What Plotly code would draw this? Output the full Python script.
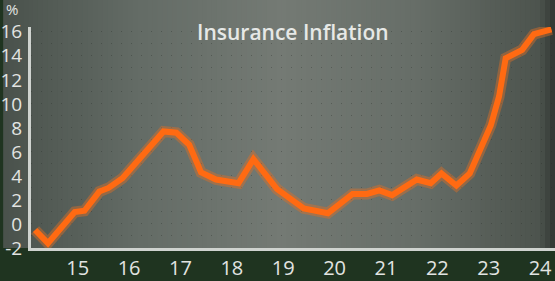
import plotly.graph_objects as go

# ---- data ----
years = [2014.17, 2014.42, 2014.94, 2015.13, 2015.42, 2015.60, 2015.87, 2016.29,
         2016.67, 2016.92, 2017.17, 2017.40, 2017.69, 2018.13, 2018.42, 2018.88,
         2019.40, 2019.87, 2020.35, 2020.63, 2020.87, 2021.12, 2021.60, 2021.87,
         2022.08, 2022.37, 2022.63, 2023.04, 2023.20, 2023.33, 2023.46, 2023.65,
         2023.88, 2024.08, 2024.22]
inflation = [-0.5, -1.6, 1.0, 1.1, 2.7, 3.0, 3.8, 5.8,
             7.7, 7.6, 6.6, 4.3, 3.7, 3.4, 5.4, 2.9,
             1.3, 0.9, 2.5, 2.5, 2.8, 2.4, 3.7, 3.4,
             4.2, 3.2, 4.2, 8.2, 10.6, 13.8, 14.1, 14.5,
             15.8, 16.1, 16.2]
x_tick_vals = [2015, 2016, 2017, 2018, 2019, 2020, 2021, 2022, 2023, 2024]
x_tick_text = ["15", "16", "17", "18", "19", "20", "21", "22", "23", "24"]
y_tick_vals = [-2, 0, 2, 4, 6, 8, 10, 12, 14, 16]
y_tick_text = ["-2", "0", "2", "4", "6", "8", "10", "12", "14", "16"]
title_text = "Insurance Inflation"

W, H = 555, 281
ML, MR, MT, MB = 28, 0, 27, 24
PW = W - ML - MR
PH = H - MT - MB

fig = go.Figure()

# glow
fig.add_trace(go.Scatter(x=years, y=inflation, mode="lines",
                         line=dict(color="rgba(220,110,40,0.45)", width=11),
                         hoverinfo="skip", showlegend=False))
fig.add_trace(go.Scatter(x=years, y=inflation, mode="lines",
                         line=dict(color="#ff6a12", width=6),
                         showlegend=False))

# background gradient (styling)
stops = [(0, (74, 82, 76)), (140, (100, 108, 102)), (280, (116, 122, 116)),
         (420, (102, 109, 103)), (540, (76, 83, 77)), (555, (48, 54, 49))]
def col_at(px):
    for (a, ca), (b, cb) in zip(stops[:-1], stops[1:]):
        if a <= px <= b:
            t = (px - a) / (b - a)
            return "rgb(%d,%d,%d)" % tuple(round(ca[i] + (cb[i] - ca[i]) * t) for i in range(3))
    return "rgb(%d,%d,%d)" % stops[-1][1]

shapes = []
step = 5
for px in range(0, W, step):
    shapes.append(dict(type="rect", xref="paper", yref="paper",
                       x0=(px - ML) / PW, x1=(px + step + 1 - ML) / PW,
                       y0=0, y1=1 + (MT + 2) / PH,
                       fillcolor=col_at(px + step / 2), line=dict(width=0), layer="below"))
shapes.append(dict(type="rect", xref="paper", yref="paper",
                   x0=-ML / PW - 0.01, x1=1.01, y0=-(MB + 2) / PH, y1=0,
                   fillcolor="#1f3420", line=dict(width=0), layer="below"))

fig.update_layout(
    width=W, height=H,
    margin=dict(l=ML, r=MR, t=MT, b=MB),
    paper_bgcolor="#1f3420",
    plot_bgcolor="rgba(0,0,0,0)",
    shapes=shapes,
    font=dict(family="Open Sans", color="#e2e4e2", size=19),
    xaxis=dict(range=[2014.09, 2024.29], tickvals=x_tick_vals, ticktext=x_tick_text,
               showgrid=False, zeroline=False, showline=True, linecolor="#cfd3cf",
               linewidth=3, ticks="", tickfont=dict(size=20, color="#e2e4e2")),
    yaxis=dict(range=[-2, 16.4], tickvals=y_tick_vals, ticktext=y_tick_text,
               showgrid=False, zeroline=False, showline=True, linecolor="#cfd3cf",
               linewidth=3, ticks="", ticklabelstandoff=2,
               tickfont=dict(size=19, color="#e2e4e2"),
               minor=dict(dtick=1, showgrid=True, gridcolor="rgba(40,45,40,0.35)",
                          griddash="1px,9px", gridwidth=1)),
    annotations=[
        dict(text=title_text, xref="paper", yref="paper", x=(291 - ML) / PW,
             y=1 + (MT - 32) / PH, xanchor="center", yanchor="middle", showarrow=False,
             font=dict(size=21, color="#e6e8e6", family="Open Sans", weight=600)),
        dict(text="%", xref="paper", yref="paper", x=(9 - ML) / PW,
             y=1 + (MT - 8) / PH, xanchor="center", yanchor="middle", showarrow=False,
             font=dict(size=15, color="#e2e4e2")),
    ],
)

fig.write_html("out.html")
